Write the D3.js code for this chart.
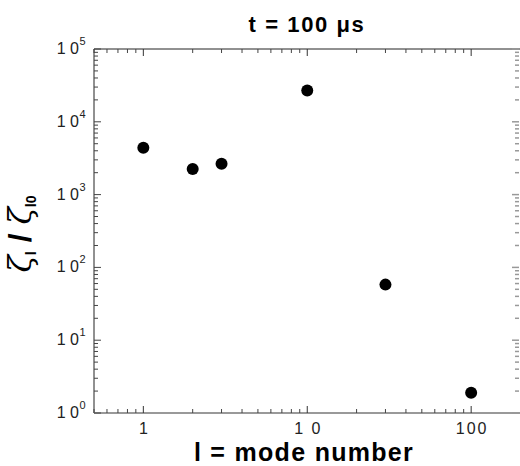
<!DOCTYPE html>
<html>
<head>
<meta charset="utf-8">
<script src="https://cdn.jsdelivr.net/npm/d3@7"></script>
<style>
  body { margin: 0; background: #fff; }
  svg { display: block; font-family: "Liberation Sans", Arial, sans-serif; }
</style>
</head>
<body>
<svg id="chart" width="520" height="466"></svg>
<script>
// data
const modes = [1, 2, 3, 10, 30, 100];
const ratios = [4400, 2250, 2650, 27000, 58, 1.9];
const xMajor = [1, 10, 100];
const xMajorLabels = ["1", "1 0", "100"];
const yMajor = [1, 10, 100, 1000, 10000, 100000];
const yExponents = ["0", "1", "2", "3", "4", "5"];

const svg = d3.select("#chart");
const plotLeft = 94, plotRight = 520.5, plotTop = 49, plotBottom = 413;

const x = d3.scaleLog().domain([0.5, 200]).range([plotLeft, plotRight]);
const y = d3.scaleLog().domain([1, 1e5]).range([plotBottom, plotTop]);

// minor ticks (2..9 in each decade)
const xMinor = x.ticks().filter(v => !xMajor.includes(v));
const yMinor = y.ticks().filter(v => !yMajor.includes(v));

const g = svg.append("g");

// frame lines
g.append("line").attr("x1", plotLeft).attr("x2", plotRight).attr("y1", plotTop).attr("y2", plotTop)
  .attr("stroke", "#222").attr("stroke-width", 1);
g.append("line").attr("x1", plotLeft).attr("x2", plotLeft).attr("y1", plotTop).attr("y2", plotBottom)
  .attr("stroke", "#222").attr("stroke-width", 1);
g.append("line").attr("x1", plotLeft).attr("x2", plotRight).attr("y1", plotBottom).attr("y2", plotBottom)
  .attr("stroke", "#999").attr("stroke-width", 2);

// x ticks, bottom and top, pointing inward
function xTicks(vals, len, color) {
  vals.forEach(v => {
    g.append("line").attr("x1", x(v)).attr("x2", x(v))
      .attr("y1", plotBottom).attr("y2", plotBottom - len)
      .attr("stroke", color).attr("stroke-width", 1);
    g.append("line").attr("x1", x(v)).attr("x2", x(v))
      .attr("y1", plotTop).attr("y2", plotTop + len)
      .attr("stroke", color).attr("stroke-width", 1);
  });
}
xTicks(xMajor, 7, "#333");
xTicks(xMinor, 4, "#444");

// y ticks, left dark, right gray
function yTicks(vals, len) {
  vals.forEach(v => {
    g.append("line").attr("x1", plotLeft).attr("x2", plotLeft + len)
      .attr("y1", y(v)).attr("y2", y(v))
      .attr("stroke", "#444").attr("stroke-width", 1);
    g.append("line").attr("x1", 519).attr("x2", 519 - len)
      .attr("y1", y(v)).attr("y2", y(v))
      .attr("stroke", "#999").attr("stroke-width", 1.5);
  });
}
yTicks(yMajor, 7);
yTicks(yMinor, 4);

// x tick labels
g.selectAll(".xl").data(xMajor).enter().append("text")
  .attr("x", d => x(d) + 1).attr("y", 434)
  .attr("text-anchor", "middle").attr("font-size", 16).attr("fill", "#222")
  .attr("letter-spacing", 2)
  .style("white-space", "pre")
  .text((d, i) => xMajorLabels[i]);

// y tick labels: "1 0" with superscript exponent
yMajor.forEach((v, i) => {
  g.append("text")
    .attr("x", 79).attr("y", y(v) + 5)
    .attr("text-anchor", "end").attr("font-size", 16).attr("fill", "#222")
    .style("white-space", "pre")
    .text("1 0");
  g.append("text").attr("x", 79.5).attr("y", y(v) - 4)
    .attr("font-size", 11).attr("fill", "#222").text(yExponents[i]);
});

// points
g.selectAll(".pt").data(modes).enter().append("circle")
  .attr("cx", d => x(d)).attr("cy", (d, i) => y(ratios[i]))
  .attr("r", 6).attr("fill", "#000");

// title
svg.append("text").attr("x", 307).attr("y", 31.5)
  .attr("text-anchor", "middle").attr("font-size", 22).attr("font-weight", "bold")
  .attr("letter-spacing", 1.6)
  .style("white-space", "pre")
  .text("t = 100 μs");

// x label
svg.append("text").attr("x", 304).attr("y", 461)
  .attr("text-anchor", "middle").attr("font-size", 25).attr("font-weight", "bold")
  .attr("letter-spacing", 1.3)
  .text("l = mode number");

// y label
const yl = svg.append("text")
  .attr("transform", "translate(31,234) rotate(-90)")
  .attr("text-anchor", "middle").attr("font-weight", "bold").attr("font-size", 32);
yl.append("tspan").attr("font-family", "DejaVu Serif").attr("font-weight", "normal").attr("font-style", "italic").text("ζ");
yl.append("tspan").attr("font-size", 14).attr("dy", 5).text("l");
yl.append("tspan").attr("dy", -5).style("white-space", "pre").text(" / ");
yl.append("tspan").attr("font-family", "DejaVu Serif").attr("font-weight", "normal").attr("font-style", "italic").text("ζ");
yl.append("tspan").attr("font-size", 14).attr("dy", 5).text("l0");
</script>
</body>
</html>
